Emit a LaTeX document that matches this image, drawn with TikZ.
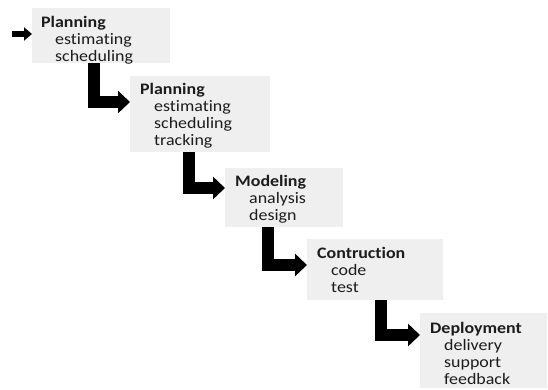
\documentclass[tikz,border=0pt]{standalone}
\usepackage{fontspec}
\setmainfont{Carlito}[FakeStretch=1.12, Ligatures=NoCommon]
\usetikzlibrary{arrows.meta}
\definecolor{boxfill}{HTML}{EFEFEF}
\definecolor{txtcol}{HTML}{1C1C1C}
\tikzset{
  box/.style={fill=boxfill, draw=none, anchor=north west, inner sep=0pt},
  txt/.style={anchor=north west, inner sep=0pt, align=left, text=txtcol,
    font=\fontsize{16pt}{17pt}\selectfont},
  bigarrow/.style={line width=12pt, line join=miter, line cap=butt,
    -{Triangle[length=12pt,width=22pt]}},
  smallarrow/.style={line width=6pt, -{Triangle[length=8pt,width=13pt]}},
}
\newcommand{\ind}{\hspace*{14pt}}
\begin{document}
\begin{tikzpicture}[x=1pt,y=-1pt]
\useasboundingbox (0,0) rectangle (548,389);
% boxes
\node[box, minimum width=138pt, minimum height=55pt] (b1) at (32,8) {};
\node[box, minimum width=140pt, minimum height=76pt] (b2) at (130,76) {};
\node[box, minimum width=118pt, minimum height=59pt] (b3) at (225,168) {};
\node[box, minimum width=136pt, minimum height=61pt] (b4) at (307,239) {};
\node[box, minimum width=127pt, minimum height=75pt] (b5) at (420,313) {};
% texts
\begin{scope}
\clip (b1.north west) rectangle (b1.south east);
\node[txt] (t1) at (41,16) {\textbf{Planning}\\\ind estimating\\\ind scheduling};
\end{scope}
\node[txt] (t2) at (140,83) {\textbf{Planning}\\\ind estimating\\\ind scheduling\\\ind tracking};
\node[txt] (t3) at (235,175) {\textbf{Modeling}\\\ind analysis\\\ind design};
\node[txt] (t4) at (317,247) {\textbf{Contruction}\\\ind code\\\ind test};
\node[txt] (t5) at (430,322) {\textbf{Deployment}\\\ind delivery\\\ind support\\\ind feedback};
% entry arrow
\coordinate (s0) at (12,34);
\draw[smallarrow] (s0) -- (b1.west |- s0);
% step arrows
\coordinate (k1) at (94,102);
\coordinate (k2) at (189,188);
\coordinate (k3) at (268,265);
\coordinate (k4) at (381,335);
\draw[bigarrow] (b1.south -| k1) |- (b2.west |- k1);
\draw[bigarrow] (b2.south -| k2) |- (b3.west |- k2);
\draw[bigarrow] (b3.south -| k3) |- (b4.west |- k3);
\draw[bigarrow] (b4.south -| k4) |- (b5.west |- k4);
\end{tikzpicture}
\end{document}
